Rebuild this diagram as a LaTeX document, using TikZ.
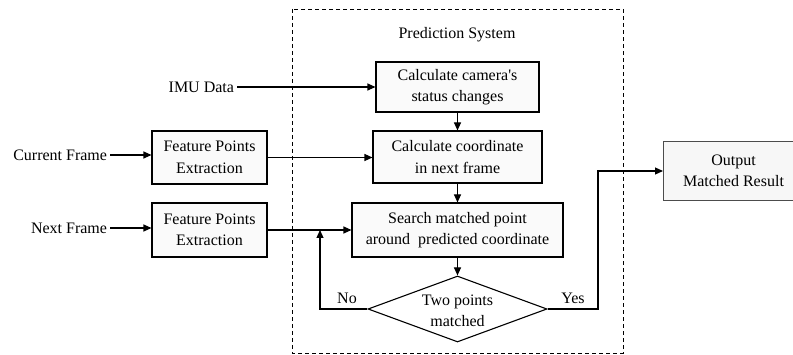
\documentclass[tikz,border=0pt]{standalone}
\usepackage{fontspec}
\setmainfont{Liberation Serif}[Ligatures=TeXOff]
\usetikzlibrary{shapes.geometric,arrows.meta}
\begin{document}
\begin{tikzpicture}[x=1pt,y=-1pt,
  every node/.style={font=\fontsize{16}{21.5}\selectfont, align=center, inner sep=0pt},
  blk/.style={draw, line width=1.1pt, fill=black!2},
  conn/.style={line width=1.1pt, -{Triangle[length=8pt,width=7pt]}},
  lbl/.style={anchor=east, outer sep=3pt}]
\useasboundingbox (0,0) rectangle (793,355);
\draw[line width=0.9pt, dash pattern=on 4pt off 3pt] (292,9) rectangle (623,353);
\node (title) at (457,35) {Prediction System};
% boxes
\node[blk, minimum width=163pt, minimum height=50pt] (b1) at (457.5,87) {Calculate camera's\\status changes};
\node[blk, minimum width=169pt, minimum height=52pt] (b2) at (457.5,157) {Calculate coordinate\\in next frame};
\node[blk, minimum width=211pt, minimum height=54pt] (b3) at (457.5,230) {Search matched point\\around\ \ predicted coordinate};
\node[draw, line width=1.1pt, diamond, aspect=2.7, minimum width=179pt, minimum height=66pt, fill=white] (d) at (457.5,309) {};
\node at (457.5,311) {Two points\\matched};
\node[blk, minimum width=115pt, minimum height=53pt] (f1) at (209.5,157.5) {Feature Points\\Extraction};
\node[blk, minimum width=115pt, minimum height=54pt] (f2) at (209.5,230) {Feature Points\\Extraction};
\node[draw=black!70, line width=1pt, fill=black!3, minimum width=140pt, minimum height=59pt, anchor=west] (out) at (663,171) {Output\\Matched Result};
% labels
\node[lbl] (cf) at (110,155) {Current Frame};
\node[lbl] (nf) at (110,228) {Next Frame};
\node[lbl] (imu) at (237,87) {IMU Data};
\node (no) at (347,298) {No};
\node (yes) at (573,298) {Yes};
% connectors
\draw[conn] (cf.east) -- (f1.west |- cf.east);
\draw[conn] (nf.east) -- (f2.west |- nf.east);
\draw[conn] (imu.east) -- (b1.west |- imu.east);
\draw[conn] (f1.east) -- (b2.west |- f1.east);
\draw[conn] (f2.east) -- (b3.west);
\draw[conn] (b1) -- (b2);
\draw[conn] (b2) -- (b3);
\draw[conn] (b3) -- (d);
\coordinate (nc) at (320,230);
\draw[conn] (d.west) -- (320,309) -- (nc);
\draw[conn] (d.east) -- (598,309) -- (598,171) -- (out.west);
\end{tikzpicture}
\end{document}
